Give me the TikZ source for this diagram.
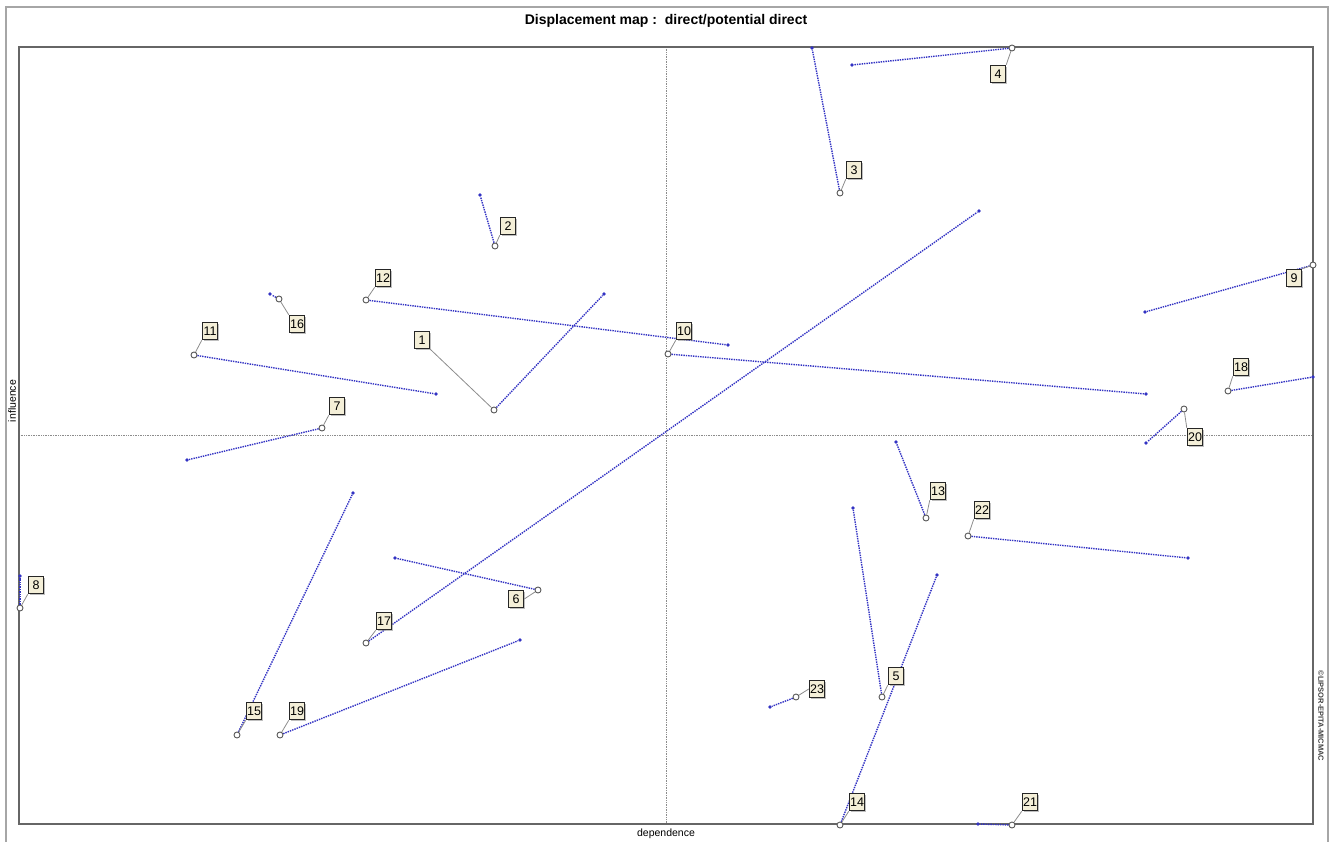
\documentclass[tikz,border=0pt]{standalone}
\usepackage{fontspec}
\setmainfont{Liberation Sans}
\usetikzlibrary{shadows}
\pgfdeclarelayer{bg}
\pgfsetlayers{bg,main}
\definecolor{potblue}{RGB}{50,50,195}
\definecolor{lblfill}{RGB}{244,239,216}
\newcommand\varitem[5]{%
  \node[pdot] (p#1) at (#3) {};
  \node[vmark] (m#1) at (#2) {};
  \begin{pgfonlayer}{bg}\draw[move] (m#1) -- (p#1);\end{pgfonlayer}
  \node[lbl] (l#1) at (#4) {#1};
  \draw[lead] (m#1) -- (l#1.#5);
}
\begin{document}
\begin{tikzpicture}[x=1pt,y=-1pt,
  lbl/.style={draw=black!85, line width=1.5pt, fill=lblfill,
    font=\fontsize{12.5}{12.5}\selectfont, inner sep=0pt, minimum height=17pt, minimum width=15pt,
    drop shadow={shadow xshift=1.6pt,shadow yshift=-1.6pt,fill=black!50}},
  vmark/.style={circle, draw=black!65, line width=0.9pt, inner sep=0pt, minimum size=6pt, fill=white},
  pdot/.style={circle, fill=potblue, inner sep=0pt, minimum size=3.8pt},
  move/.style={potblue, densely dotted, line width=1.4pt},
  lead/.style={black!45, line width=0.8pt},
  axisline/.style={black!45, densely dotted, line width=0.7pt},
  frame/.style={black!60, line width=1.8pt},
  outer/.style={black!35, line width=1.2pt}]
\useasboundingbox (0,0) rectangle (1331,841);
% outer frame
\coordinate (o1) at (6,845);
\coordinate (o2) at (6,7);
\coordinate (o3) at (1328,7);
\coordinate (o4) at (1328,845);
\draw[outer] (o1) -- (o2) -- (o3) -- (o4);
% plot frame
\coordinate (f1) at (19,47);
\coordinate (f2) at (1313,824);
% centre axes
\coordinate (ct) at (666,47);
\coordinate (cb) at (666,824);
\coordinate (cl) at (19,435);
\coordinate (cr) at (1313,435);
\begin{pgfonlayer}{bg}
\draw[axisline] (ct) -- (cb);
\draw[axisline] (cl) -- (cr);
\draw[frame] (f1) rectangle (f2);
\end{pgfonlayer}
% texts
\node[font=\bfseries\fontsize{14}{14}\selectfont] (title) at (666,21) {Displacement map :\ \ direct/potential direct};
\node[font=\fontsize{10.5}{10.5}\selectfont] (xlab) at (666,834) {dependence};
\node[font=\fontsize{10.5}{10.5}\selectfont, rotate=90] (ylab) at (12,401) {influence};
\node[font=\bfseries\fontsize{7.5}{7.5}\selectfont, rotate=-90, text=black!75] (copy) at (1321,716) {\textcopyright LIPSOR-EPITA-MICMAC};
% variables: id, marker, potential, label, leader anchor
\varitem{1}{494,410}{604,294}{422,340}{south east}
\varitem{2}{495,246}{480,195}{508,226}{south west}
\varitem{3}{840,193}{812,48}{854,170}{south west}
\varitem{4}{1012,48}{852,65}{998,74}{north east}
\varitem{5}{882,697}{853,508}{896,676}{south west}
\varitem{6}{538,590}{395,558}{516,599}{east}
\varitem{7}{322,428}{187,460}{337,406}{south west}
\varitem{8}{20,608}{20,576}{36,585}{south west}
\varitem{9}{1313,265}{1145,312}{1294,278}{north east}
\varitem{10}{668,354}{1146,394}{684,331}{south west}
\varitem{11}{194,355}{436,394}{210,331}{south west}
\varitem{12}{366,300}{728,345}{383,278}{south west}
\varitem{13}{926,518}{896,442}{938,491}{south west}
\varitem{14}{840,825}{937,575}{857,802}{south west}
\varitem{15}{237,735}{353,493}{254,711}{south west}
\varitem{16}{279,299}{270,294}{297,324}{north west}
\varitem{17}{366,643}{979,211}{384,621}{south west}
\varitem{18}{1228,391}{1313,377}{1241,367}{south west}
\varitem{19}{280,735}{520,640}{297,711}{south west}
\varitem{20}{1184,409}{1146,443}{1195,437}{north west}
\varitem{21}{1012,825}{978,824}{1030,802}{south west}
\varitem{22}{968,536}{1188,558}{982,510}{south west}
\varitem{23}{796,697}{770,707}{817,689}{west}
\end{tikzpicture}
\end{document}
